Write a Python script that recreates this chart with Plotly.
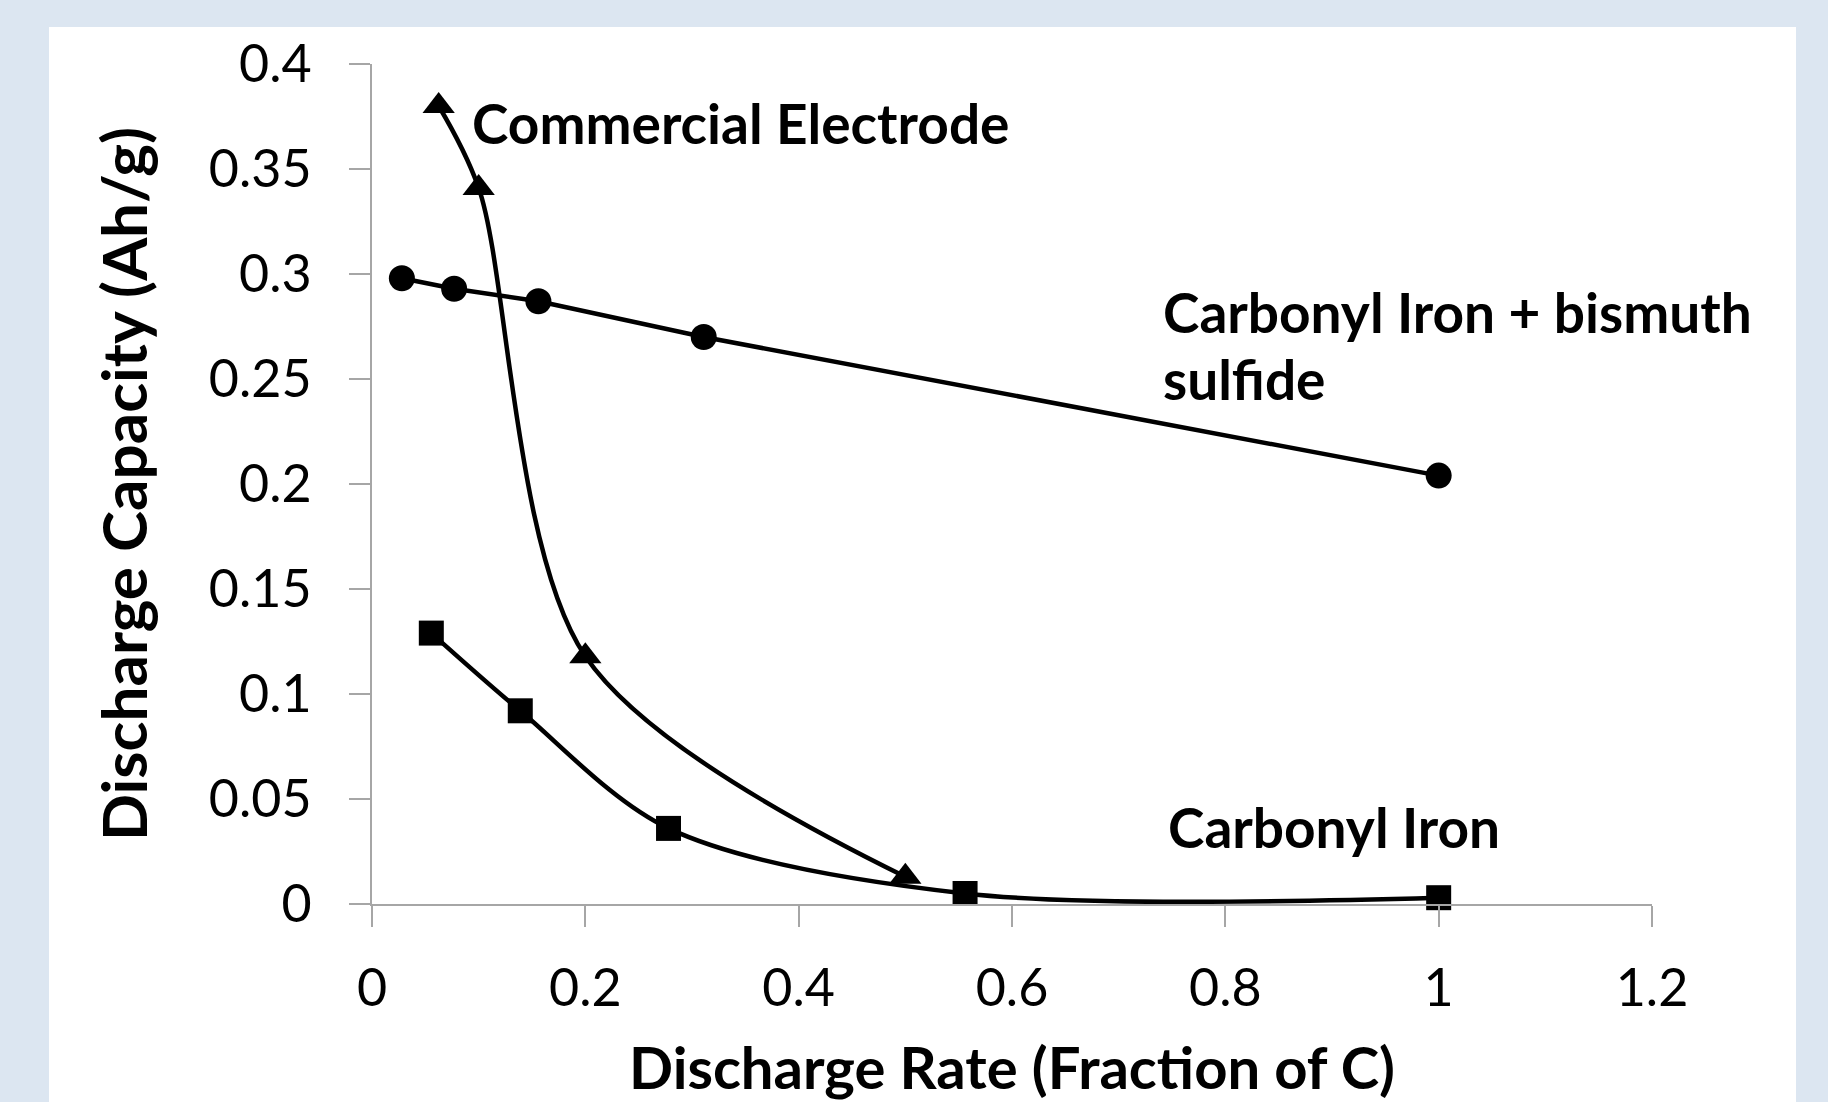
import plotly.graph_objects as go

# Data
commercial_x = [0.0625, 0.1, 0.2, 0.5]
commercial_y = [0.380, 0.341, 0.118, 0.013]

ci_bi_x = [0.028, 0.077, 0.156, 0.311, 1.0]
ci_bi_y = [0.298, 0.293, 0.287, 0.270, 0.204]

ci_x = [0.0556, 0.139, 0.278, 0.556, 1.0]
ci_y = [0.129, 0.092, 0.036, 0.005, 0.003]

x_ticks = [0, 0.2, 0.4, 0.6, 0.8, 1, 1.2]
x_ticklabels = ["0", "0.2", "0.4", "0.6", "0.8", "1", "1.2"]
y_ticks = [0, 0.05, 0.1, 0.15, 0.2, 0.25, 0.3, 0.35, 0.4]
y_ticklabels = ["0", "0.05", "0.1", "0.15", "0.2", "0.25", "0.3", "0.35", "0.4"]

FONT = "Lato, 'Open Sans', sans-serif"
AXIS_GRAY = "#a6a6a6"

fig = go.Figure()

fig.add_trace(go.Scatter(
    x=commercial_x, y=commercial_y, mode="lines+markers",
    line=dict(color="black", width=4.5, shape="spline", smoothing=0.9),
    marker=dict(symbol="triangle-up", size=28, color="black"),
    name="Commercial Electrode", cliponaxis=False))

fig.add_trace(go.Scatter(
    x=ci_bi_x, y=ci_bi_y, mode="lines+markers",
    line=dict(color="black", width=4.5),
    marker=dict(symbol="circle", size=26, color="black"),
    name="Carbonyl Iron + bismuth sulfide", cliponaxis=False))

fig.add_trace(go.Scatter(
    x=ci_x, y=ci_y, mode="lines+markers",
    line=dict(color="black", width=4.5, shape="spline", smoothing=0.9),
    marker=dict(symbol="square", size=25, color="black"),
    name="Carbonyl Iron", cliponaxis=False))

W, H = 1828, 1102
L, R, T, B = 372, 176, 64, 198
pw, ph = W - L - R, H - T - B

def px_to_paper_x(px):
    return (px - L) / pw

def px_to_paper_y(py):
    return (H - B - py) / ph

# White panel on light-blue background
fig.add_shape(type="rect", xref="paper", yref="paper",
              x0=px_to_paper_x(49), x1=px_to_paper_x(1796),
              y0=px_to_paper_y(1110), y1=px_to_paper_y(27),
              fillcolor="white", line=dict(width=0), layer="below")

ann_font = dict(family=FONT, size=55, color="black", weight="bold")
fig.add_annotation(text="Commercial Electrode", xref="paper", yref="paper",
                   x=px_to_paper_x(470), y=px_to_paper_y(123),
                   xanchor="left", yanchor="middle", showarrow=False, font=ann_font)
fig.add_annotation(text="Carbonyl Iron + bismuth", xref="paper", yref="paper",
                   x=px_to_paper_x(1161), y=px_to_paper_y(312),
                   xanchor="left", yanchor="middle", showarrow=False, font=ann_font)
fig.add_annotation(text="sulfide", xref="paper", yref="paper",
                   x=px_to_paper_x(1161), y=px_to_paper_y(379),
                   xanchor="left", yanchor="middle", showarrow=False, font=ann_font)
fig.add_annotation(text="Carbonyl Iron", xref="paper", yref="paper",
                   x=px_to_paper_x(1166), y=px_to_paper_y(827),
                   xanchor="left", yanchor="middle", showarrow=False, font=ann_font)

fig.update_layout(
    width=W, height=H,
    margin=dict(l=L, r=R, t=T, b=B),
    paper_bgcolor="#dce6f1",
    plot_bgcolor="white",
    showlegend=False,
    font=dict(family=FONT, color="black"),
)

fig.update_xaxes(
    range=[0, 1.2], tickvals=x_ticks, ticktext=x_ticklabels,
    showgrid=False, zeroline=False, showline=True, linecolor=AXIS_GRAY, linewidth=2,
    ticks="outside", ticklen=21, tickwidth=2, tickcolor=AXIS_GRAY,
    tickfont=dict(family=FONT, size=52, color="black"),
    ticklabelstandoff=17,
    title=dict(text="Discharge Rate (Fraction of C)", standoff=32,
               font=dict(family=FONT, size=58, color="black", weight="bold")),
)
fig.update_yaxes(
    range=[0, 0.4], tickvals=y_ticks, ticktext=y_ticklabels,
    showgrid=False, zeroline=False, showline=True, linecolor=AXIS_GRAY, linewidth=2,
    ticks="outside", ticklen=21, tickwidth=2, tickcolor=AXIS_GRAY,
    tickfont=dict(family=FONT, size=52, color="black"),
    ticklabelstandoff=27,
    title=dict(text="Discharge Capacity (Ah/g)", standoff=41,
               font=dict(family=FONT, size=62, color="black", weight="bold")),
)

fig.write_html("out.html", config={"displayModeBar": False},
               post_script="document.body.style.margin='0';")
